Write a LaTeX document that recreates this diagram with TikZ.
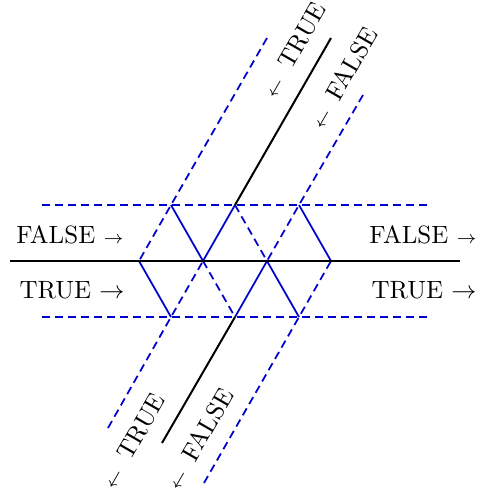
\documentclass[tikz,border=0pt]{standalone}
\usepackage{amsmath}
\usepackage{xcolor}
\usepackage{tikz}

\begin{document}
\begin{tikzpicture}[x=0.4pt,y=-0.4pt,
  wire/.style={black,line width=0.8pt},
  edge/.style={blue!80!black,line width=0.7pt},
  ghost/.style={blue!80!black,line width=0.7pt,dash pattern=on 3.2pt off 2pt},
  lbl/.style={inner sep=1pt}]
  \useasboundingbox (0,0) rectangle (477,491);
  % grid points
  \coordinate (t1) at (171,205);
  \coordinate (t2) at (235,205);
  \coordinate (t3) at (299,205);
  \coordinate (m0) at (139,261);
  \coordinate (m1) at (203,261);
  \coordinate (m2) at (267,261);
  \coordinate (m3) at (331,261);
  \coordinate (b1) at (171,317);
  \coordinate (b2) at (235,317);
  \coordinate (b3) at (299,317);
  % free ends
  \coordinate (hl) at (10,261);
  \coordinate (hr) at (460,261);
  \coordinate (ul) at (42,205);
  \coordinate (ur) at (428,205);
  \coordinate (ll) at (42,317);
  \coordinate (lr) at (428,317);
  \coordinate (wt) at (331,38);
  \coordinate (wb) at (162,443);
  \coordinate (dtl) at (267,38);
  \coordinate (dtr) at (363,95);
  \coordinate (dbl) at (108,428);
  \coordinate (dbr) at (204,483);
  % dashed lanes
  \draw[ghost] (ul) -- (ur);
  \draw[ghost] (ll) -- (lr);
  \draw[ghost] (dtl) -- (t1) -- (m0);
  \draw[ghost] (dtr) -- (t3) -- (m2);
  \draw[ghost] (t2) -- (m2);
  \draw[ghost] (dbl) -- (b1) -- (m1);
  \draw[ghost] (m1) -- (b2);
  \draw[ghost] (dbr) -- (b3) -- (m3);
  % solid triangles
  \draw[edge] (t1) -- (m1) -- (t2);
  \draw[edge] (t3) -- (m3);
  \draw[edge] (m0) -- (b1);
  \draw[edge] (b2) -- (m2) -- (b3);
  % wires
  \draw[wire] (hl) -- (hr);
  \draw[wire] (t2) -- (wt);
  \draw[wire] (b2) -- (wb);
  % labels
  \node[lbl] (lf) at (70,235) {FALSE {\scriptsize$\to$}};
  \node[lbl] (lt) at (72,290) {TRUE $\to$};
  \node[lbl] (rf) at (423,235) {FALSE {\scriptsize$\to$}};
  \node[lbl] (rt) at (424,290) {TRUE $\to$};
  \node[lbl,rotate=60] (tt) at (294,50) {{\scriptsize$\leftarrow$}\hspace{2pt} TRUE};
  \node[lbl,rotate=60] (tf) at (343,78) {{\scriptsize$\leftarrow$}\hspace{2pt} FALSE};
  \node[lbl,rotate=60] (bt) at (133,441) {{\scriptsize$\leftarrow$}\hspace{2pt} TRUE};
  \node[lbl,rotate=60] (bf) at (199,439) {{\scriptsize$\leftarrow$}\hspace{2pt} FALSE};
\end{tikzpicture}
\end{document}
